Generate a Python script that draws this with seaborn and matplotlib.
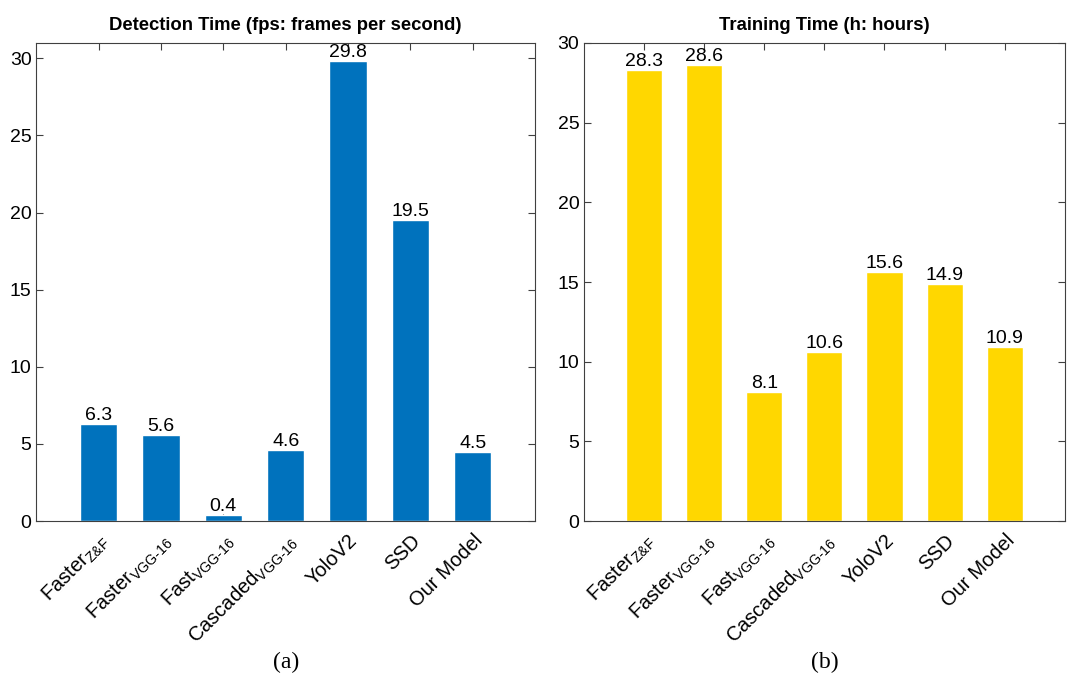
import matplotlib
matplotlib.use("Agg")
import matplotlib.pyplot as plt
import seaborn as sns
import pandas as pd

models = [r"Faster$_{\text{Z&F}}$", r"Faster$_{\text{VGG-16}}$", r"Fast$_{\text{VGG-16}}$",
          r"Cascaded$_{\text{VGG-16}}$", "YoloV2", "SSD", "Our Model"]
detection_fps = [6.3, 5.6, 0.4, 4.6, 29.8, 19.5, 4.5]
training_hours = [28.3, 28.6, 8.1, 10.6, 15.6, 14.9, 10.9]

sns.set_style("ticks")
plt.rcParams["font.family"] = ["Liberation Sans", "DejaVu Sans"]
plt.rcParams["text.color"] = "black"
plt.rcParams["mathtext.fontset"] = "custom"
plt.rcParams["mathtext.rm"] = "Liberation Sans"
plt.rcParams["mathtext.it"] = "Liberation Sans"

fig = plt.figure(figsize=(10.7, 6.82), dpi=100)
ax1 = fig.add_axes([0.034, 0.236, 0.466, 0.701])
ax2 = fig.add_axes([0.546, 0.236, 0.449, 0.701])

panels = [
    (ax1, detection_fps, "#0072BD", "Detection Time (fps: frames per second)", 31, "(a)"),
    (ax2, training_hours, "#FFD700", "Training Time (h: hours)", 30, "(b)"),
]

for ax, vals, col, title, ytop, cap in panels:
    df = pd.DataFrame({"model": models, "value": vals})
    sns.barplot(data=df, x="model", y="value", color=col, width=0.6, saturation=1, ax=ax)
    ax.bar_label(ax.containers[0], fmt="%.1f", padding=0, fontsize=14, color="black")
    ax.set_xlim(-1, 7)
    ax.set_ylim(0, ytop)
    ax.set_yticks(range(0, 31, 5))
    ax.set_xlabel("")
    ax.set_ylabel("")
    ax.set_title(title, fontsize=13.3, fontweight="bold", pad=9, color="black")
    ax.set_xticks(range(len(models)))
    ax.set_xticklabels(models, rotation=45, ha="right", rotation_mode="anchor", fontsize=14.5)
    ax.tick_params(direction="in", top=True, right=True, length=5, width=0.8,
                   colors="#404040", labelsize=14, labelcolor="black")
    ax.tick_params(axis="x", labelsize=14.5, pad=7)
    for s in ax.spines.values():
        s.set_visible(True)
        s.set_color("#404040")
        s.set_linewidth(0.8)
    bb = ax.get_position()
    fig.text((bb.x0 + bb.x1) / 2, 0.028, cap, ha="center", va="center",
             fontsize=17, family=["Liberation Serif", "DejaVu Serif"])

fig.savefig("out.png", dpi=100)
